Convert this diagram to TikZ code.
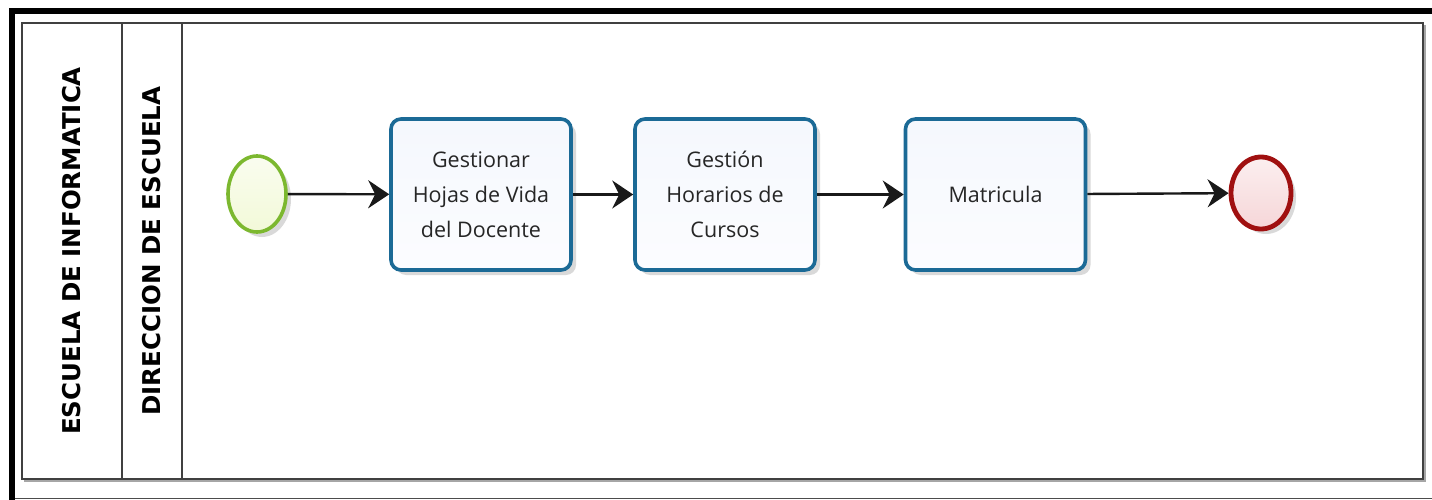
\documentclass[tikz,border=0pt]{standalone}
\usepackage{fontspec}
\setmainfont{Open Sans}
\newfontfamily\lanefont{DejaVu Sans}
\usetikzlibrary{arrows.meta,shadows,shapes.geometric}
\definecolor{taskborder}{HTML}{1B6A96}
\definecolor{taskfill}{HTML}{EEF3FC}
\definecolor{startborder}{HTML}{7CB82F}
\definecolor{startfill}{HTML}{F2F9D8}
\definecolor{endborder}{HTML}{A01010}
\definecolor{endfill}{HTML}{F6D6D8}
\tikzset{
  taskbox/.style={draw=taskborder, line width=3.6pt, rounded corners=10pt,
    top color=taskfill!60!white, bottom color=taskfill!90!blue!8, minimum width=180pt, minimum height=151pt,
    align=center, font=\fontsize{21.5}{35}\selectfont, text=black!85,
    drop shadow={shadow xshift=5pt, shadow yshift=-5pt, opacity=0.15, fill=black}},
  startev/.style={ellipse, draw=startborder, line width=3.6pt, top color=startfill!40!white, bottom color=startfill,
    minimum width=58pt, minimum height=76pt, inner sep=0pt,
    drop shadow={shadow xshift=5pt, shadow yshift=-5pt, opacity=0.15, fill=black}},
  endev/.style={ellipse, draw=endborder, line width=4.8pt, top color=endfill!40!white, bottom color=endfill,
    minimum width=60pt, minimum height=72pt, inner sep=0pt,
    drop shadow={shadow xshift=5pt, shadow yshift=-5pt, opacity=0.15, fill=black}},
  flow/.style={draw=black!90, line width=2.4pt, -{Stealth[length=21pt, width=28pt, inset=7pt]}},
  lanelabel/.style={rotate=90, font=\lanefont\bfseries\fontsize{24.5}{26}\selectfont, text=black},
  poolline/.style={draw=black!75, line width=1.6pt},
}
\begin{document}
\begin{tikzpicture}[x=1pt, y=-1pt]
\useasboundingbox (0,0) rectangle (1432,500);
% outer frame
\draw[black, line width=6pt] (12,500) -- (12,11.5) -- (1432,11.5);
\draw[black!70, line width=1.5pt] (15,498.5) -- (1432,498.5);
% pool shadow
\draw[black!35, line width=2pt] (1425,25) -- (1425,481) -- (24,481);
% pool
\draw[poolline] (22,23) rectangle (1423,479);
\draw[poolline] (122,23) -- (122,479);
\draw[poolline] (182,23) -- (182,479);
\node[lanelabel] (pool) at (72,251) {ESCUELA DE INFORMATICA};
\node[lanelabel] (lane) at (152,251) {DIRECCION DE ESCUELA};
% elements
\node[startev] (start) at (257,194) {};
\node[taskbox] (t1) at (481,194.5) {Gestionar\\Hojas de Vida\\del Docente};
\node[taskbox] (t2) at (725,194.5) {Gestión\\Horarios de\\Cursos};
\node[taskbox] (t3) at (995.5,194.5) {Matricula};
\node[endev] (end) at (1261,193) {};
\draw[flow] (start) -- (t1);
\draw[flow] (t1) -- (t2);
\draw[flow] (t2) -- (t3);
\draw[flow] (t3) -- (end);
\end{tikzpicture}
\end{document}
